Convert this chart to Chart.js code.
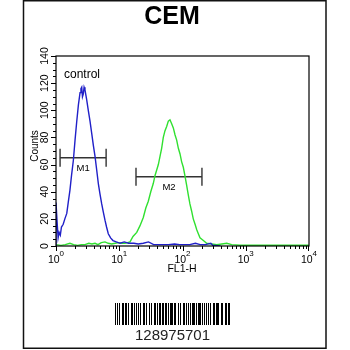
<!DOCTYPE html>
<html>
<head>
<meta charset="utf-8">
<script src="https://cdn.jsdelivr.net/npm/chart.js@4/dist/chart.umd.min.js"></script>
<style>
html,body{margin:0;padding:0;background:#fff;}
canvas{display:block;}
</style>
</head>
<body>
<canvas id="c" width="350" height="350"></canvas>
<script>
// ---- data ----
const chartTitle = 'CEM';
const xAxisTitle = 'FL1-H';
const yAxisTitle = 'Counts';
const controlLabel = 'control';
const barcodeText = '128975701';

const xTickValues = [1, 10, 100, 1000, 10000];
const xTickExponents = ['0', '1', '2', '3', '4'];
const yTickValues = [0, 20, 40, 60, 80, 100, 120, 140];

// control (blue) histogram
const blueX = [1.00,1.00,1.04,1.08,1.12,1.17,1.22,1.30,1.38,1.48,1.56,1.66,1.76,1.88,2.00,2.12,2.26,2.40,2.48,2.55,2.62,2.70,2.78,2.87,3.05,3.24,3.45,3.67,3.90,4.14,4.40,4.67,4.97,5.28,5.60,5.95,6.30,6.71,7.30,7.96,9.0,10.3,12,14,17,20,24,29,35,42,50,60,75,90,110,130,160,190,230,280,300,400];
const blueY = [0,32,18,6,10,8,14,16,20,24,32,41,52,63,78,91,104,113,116,117,110,112,117,115,108,100,92,83,74,66,56,46,38,31,25,19,14,9,6,4,3,2,3,2,2,1.5,2,3,1,1,1,1,1.5,1,1,1,2,1,1,2,0.5,0];

// antibody (green) histogram
const greenX = [1,1.2,1.4,1.66,1.9,2.2,2.5,2.87,3.3,3.7,4.14,4.6,5.2,5.95,6.7,7.6,8.6,9.7,11,12.3,13.5,14.8,16.5,18.9,21.3,24.0,26.3,28.8,31.5,34.5,36.8,39.1,41.5,44.1,46.8,49.7,52.9,56.2,59.7,63.4,67.4,71.6,76.1,80.9,86,91.2,97,103,109,116,123,131,139,148,158,168,178,189,214,241,290,347,420,500,600,811,1500,3000,10000];
const greenY = [1,0.5,1,2,1,0.5,1,1,2,1.5,2,1,2.5,3,2,1.5,2,2.5,2,2,2.5,3,7,10,15,21,28,33,40,46,52,56,60,66,72,80,85,88,92,93,90,87,82,78,72,68,62,58,52,45,38,31,26,20,16,12,9,6,4,2,1.5,1,1.5,2,1,0.5,0.5,0.5,0.5];

// gate markers
const markerNames = ['M1', 'M2'];
const markerStart = [1.16, 18.4];
const markerEnd = [6.2, 203];
const markerLevel = [65, 51];

// barcode module widths (bar, space, bar, ...)
const barcodePattern = '211214112232131122211312131211322214111213233111221121311213121421113112211231212131132112123311121133112332111';

// ---- build ----
const toPts = (xs, ys) => xs.map((x, i) => ({x: x, y: ys[i]}));
const datasets = [
  {label: 'control', data: toPts(blueX, blueY), borderColor: '#2020c8', borderWidth: 1.4, pointRadius: 0, tension: 0, fill: false},
  {label: 'sample', data: toPts(greenX, greenY), borderColor: '#30e030', borderWidth: 1.4, pointRadius: 0, tension: 0, fill: false}
];
markerNames.forEach((n, i) => {
  datasets.push({
    label: n,
    data: [{x: markerStart[i], y: markerLevel[i]}, {x: markerEnd[i], y: markerLevel[i]}],
    borderColor: '#333', borderWidth: 1.4,
    pointStyle: 'line', pointRotation: 90, pointRadius: 9,
    pointBorderColor: '#333', pointBorderWidth: 1.4,
    tension: 0, fill: false, clip: false
  });
});

const FONT = '"Liberation Sans", Arial, sans-serif';

const decor = {
  id: 'decor',
  afterDraw(chart) {
    const ctx = chart.ctx, ca = chart.chartArea;
    const xs = chart.scales.x, ys = chart.scales.y;
    ctx.save();
    // outer frame
    ctx.strokeStyle = '#111'; ctx.lineWidth = 1.5;
    ctx.strokeRect(23.5, 0.75, 302.5, 347.5);
    // title
    ctx.fillStyle = '#000';
    ctx.font = 'bold 25px ' + FONT;
    ctx.textAlign = 'center'; ctx.textBaseline = 'alphabetic';
    ctx.fillText(chartTitle, 172, 24);
    // plot frame
    ctx.strokeStyle = '#000'; ctx.lineWidth = 1.2;
    ctx.strokeRect(ca.left, ca.top, ca.right - ca.left, ca.bottom - ca.top);
    // y ticks
    ctx.lineWidth = 1;
    for (let v = 0; v <= 140; v += 5) {
      const y = Math.round(ys.getPixelForValue(v)) + 0.5;
      const len = (v % 20 === 0) ? 5 : 3;
      ctx.beginPath(); ctx.moveTo(ca.left - len, y); ctx.lineTo(ca.left, y); ctx.stroke();
    }
    // y labels rotated
    ctx.font = '10.5px ' + FONT; ctx.textAlign = 'center';
    yTickValues.forEach(v => {
      const y = ys.getPixelForValue(v);
      ctx.save(); ctx.translate(ca.left - 5.5, y); ctx.rotate(-Math.PI / 2);
      ctx.textBaseline = 'bottom';
      ctx.fillText(String(v), 0, 0); ctx.restore();
    });
    ctx.save(); ctx.translate(35, 146); ctx.rotate(-Math.PI / 2);
    ctx.font = '10px ' + FONT; ctx.textBaseline = 'middle';
    ctx.fillText(yAxisTitle, 0, 0); ctx.restore();
    // x ticks
    for (let d = 0; d < 4; d++) {
      for (let m = 1; m <= 9; m++) {
        const v = m * Math.pow(10, d);
        const x = Math.round(xs.getPixelForValue(v)) + 0.5;
        const len = (m === 1) ? 5 : 3;
        ctx.beginPath(); ctx.moveTo(x, ca.bottom); ctx.lineTo(x, ca.bottom + len); ctx.stroke();
      }
    }
    { const x = Math.round(xs.getPixelForValue(10000)) - 0.5;
      ctx.beginPath(); ctx.moveTo(x, ca.bottom); ctx.lineTo(x, ca.bottom + 5); ctx.stroke(); }
    // x labels with superscripts
    xTickValues.forEach((v, i) => {
      const x = xs.getPixelForValue(v);
      ctx.font = '10.5px ' + FONT;
      const w1 = ctx.measureText('10').width;
      ctx.font = '8px ' + FONT;
      const w2 = ctx.measureText(xTickExponents[i]).width;
      const start = x - (w1 + w2) / 2;
      ctx.textAlign = 'left'; ctx.textBaseline = 'alphabetic';
      ctx.font = '10.5px ' + FONT;
      ctx.fillText('10', start, ca.bottom + 17);
      ctx.font = '8px ' + FONT;
      ctx.fillText(xTickExponents[i], start + w1, ca.bottom + 10);
    });
    ctx.font = '10.5px ' + FONT; ctx.textAlign = 'center'; ctx.textBaseline = 'middle';
    ctx.fillText(xAxisTitle, 182, 269);
    // control text
    ctx.font = '12px ' + FONT; ctx.textAlign = 'left'; ctx.textBaseline = 'alphabetic';
    ctx.fillText(controlLabel, 64, 78);
    // marker labels
    ctx.font = '9.5px ' + FONT; ctx.textAlign = 'center'; ctx.textBaseline = 'middle';
    markerNames.forEach((n, i) => {
      const cx = xs.getPixelForValue(Math.sqrt(markerStart[i] * markerEnd[i]));
      const cy = ys.getPixelForValue(markerLevel[i]) + 11;
      ctx.fillText(n, cx, cy);
    });
    // barcode
    const mods = barcodePattern.split('').map(Number);
    const total = mods.reduce((a, b) => a + b, 0);
    const bx0 = 115, bw = 115, by0 = 303, bh = 22;
    const sc = bw / total;
    let pos = 0;
    ctx.fillStyle = '#000';
    mods.forEach((m, i) => {
      if (i % 2 === 0) {
        const a = Math.round(bx0 + pos * sc), b = Math.round(bx0 + (pos + m) * sc);
        ctx.fillRect(a, by0, Math.max(1, b - a), bh);
      }
      pos += m;
    });
    ctx.fillStyle = '#222';
    ctx.font = '15px ' + FONT; ctx.textAlign = 'center'; ctx.textBaseline = 'alphabetic';
    ctx.fillText(barcodeText, 172.5, 340);
    ctx.restore();
  }
};

new Chart(document.getElementById('c'), {
  type: 'line',
  data: {datasets: datasets},
  options: {
    responsive: false,
    animation: false,
    devicePixelRatio: 1,
    layout: {padding: {left: 56, right: 41, top: 56, bottom: 104}},
    plugins: {legend: {display: false}, tooltip: {enabled: false}, title: {display: false}},
    scales: {
      x: {type: 'logarithmic', min: 1, max: 10000, display: false},
      y: {type: 'linear', min: 0, max: 140, display: false}
    }
  },
  plugins: [decor]
});
</script>
</body>
</html>
